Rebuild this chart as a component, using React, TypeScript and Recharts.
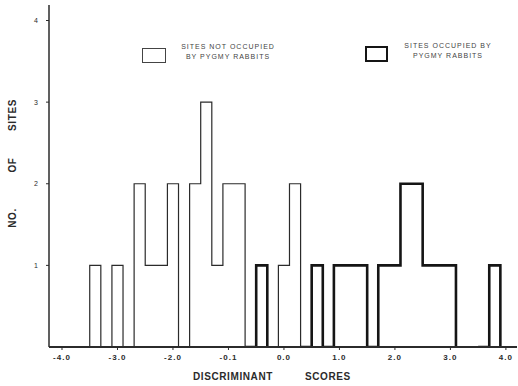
import React from "react";
import { ComposedChart, Line, XAxis, YAxis } from "recharts";

// histogram bins (left edges), all 0.2 wide
const binStarts = [
  -3.5, -3.3, -3.1, -2.9, -2.7, -2.5, -2.3, -2.1, -1.9, -1.7, -1.5, -1.3, -1.1,
  -0.9, -0.7, -0.5, -0.3, -0.1, 0.1, 0.3, 0.5, 0.7, 0.9, 1.1, 1.3, 1.5, 1.7,
  1.9, 2.1, 2.3, 2.5, 2.7, 2.9, 3.1, 3.3, 3.5, 3.7,
];
const binWidth = 0.2;

// number of sites per bin
const notOccupied = [
  1, 0, 1, 0, 2, 1, 1, 2, 0, 2, 3, 1, 2, 2, 0, 0, 0, 1, 2, 0, 0, 0, 0, 0, 0, 0,
  0, 0, 0, 0, 0, 0, 0, 0, 0, 0, 0,
];
const occupied = [
  0, 0, 0, 0, 0, 0, 0, 0, 0, 0, 0, 0, 0, 0, 0, 1, 0, 0, 0, 0, 1, 0, 1, 1, 1, 0,
  1, 1, 2, 2, 1, 1, 1, 0, 0, 0, 1,
];

const xTicks = [-4, -3, -2, -1, 0, 1, 2, 3, 4];
const xTickLabels = ["-4.0", "-3.0", "-2.0", "-0.1", "0.0", "1.0", "2.0", "3.0", "4.0"];
const yTicks = [1, 2, 3, 4];

const legendNotOccupied = ["SITES NOT OCCUPIED", "BY PYGMY RABBITS"];
const legendOccupied = ["SITES OCCUPIED BY", "PYGMY RABBITS"];

// step outline: keep zero points only where they close or open a bar
const edges = [
  binStarts[0] - binWidth,
  ...binStarts,
  binStarts[binStarts.length - 1] + binWidth,
].map((v) => Math.round(v * 10) / 10);

function outline(counts: number[]) {
  const ys = [0, ...counts, 0];
  return ys.map((y, i) => {
    const keep = y > 0 || (ys[i - 1] ?? 0) > 0 || (ys[i + 1] ?? 0) > 0;
    return keep ? y : null;
  });
}

const notOccLine = outline(notOccupied);
const occLine = outline(occupied);
const chartData = edges.map((x, i) => ({
  x,
  notOcc: notOccLine[i],
  occ: occLine[i],
}));

const font = "'Liberation Sans', Arial, sans-serif";
const ink = "#2b2b2b";

const legendText: React.CSSProperties = {
  position: "absolute",
  transform: "translateX(-50%)",
  fontSize: 7,
  letterSpacing: 1,
  color: "#444",
  textAlign: "center",
  lineHeight: "10px",
  whiteSpace: "nowrap",
};

const axisTitle: React.CSSProperties = {
  position: "absolute",
  fontSize: 10,
  fontWeight: 700,
  letterSpacing: 0.6,
  color: ink,
  whiteSpace: "nowrap",
};

export default function App() {
  return (
    <div
      style={{
        position: "absolute",
        left: 0,
        top: 0,
        width: 518,
        height: 386,
        background: "#fff",
        fontFamily: font,
      }}
    >
      <ComposedChart
        width={518}
        height={386}
        data={chartData}
        margin={{ top: 5, right: 1, left: 0, bottom: 0 }}
      >
        <XAxis
          type="number"
          dataKey="x"
          domain={[-4.234, 4.2]}
          ticks={xTicks}
          allowDataOverflow
          height={39}
          tickSize={3}
          tickMargin={4}
          tickFormatter={(v: number) => xTickLabels[xTicks.indexOf(v)] ?? ""}
          axisLine={{ stroke: ink, strokeWidth: 1.8 }}
          tickLine={{ stroke: ink }}
          tick={{ fontSize: 8, fontWeight: 700, fill: ink, fontFamily: font, letterSpacing: 1 }}
        />
        <YAxis
          type="number"
          domain={[0, 4.19]}
          ticks={yTicks}
          allowDataOverflow
          width={49}
          tickSize={3}
          tickMargin={8}
          axisLine={{ stroke: ink, strokeWidth: 1.5 }}
          tickLine={{ stroke: ink }}
          tick={{ fontSize: 7, fill: ink, fontFamily: font }}
        />
        <Line
          type="stepAfter"
          dataKey="notOcc"
          stroke={ink}
          strokeWidth={1.2}
          dot={false}
          activeDot={false}
          isAnimationActive={false}
        />
        <Line
          type="stepAfter"
          dataKey="occ"
          stroke="#151515"
          strokeWidth={2.6}
          dot={false}
          activeDot={false}
          isAnimationActive={false}
        />
      </ComposedChart>

      {/* legend */}
      <div
        style={{
          position: "absolute",
          left: 142,
          top: 48,
          width: 22,
          height: 13,
          border: "1px solid #444",
        }}
      />
      <div style={{ ...legendText, left: 228, top: 42 }}>
        {legendNotOccupied.map((t) => (
          <div key={t}>{t}</div>
        ))}
      </div>
      <div
        style={{
          position: "absolute",
          left: 365,
          top: 46,
          width: 19,
          height: 12,
          border: "2.5px solid #151515",
        }}
      />
      <div style={{ ...legendText, left: 448, top: 41 }}>
        {legendOccupied.map((t) => (
          <div key={t}>{t}</div>
        ))}
      </div>

      {/* axis titles */}
      <div style={{ ...axisTitle, left: 193, top: 371 }}>DISCRIMINANT</div>
      <div style={{ ...axisTitle, left: 305, top: 371 }}>SCORES</div>
      {[
        ["NO.", 218],
        ["OF", 165],
        ["SITES", 115],
      ].map(([t, y]) => (
        <div
          key={t as string}
          style={{
            ...axisTitle,
            left: 12,
            top: y as number,
            transform: "translate(-50%, -50%) rotate(-90deg)",
          }}
        >
          {t}
        </div>
      ))}
    </div>
  );
}
